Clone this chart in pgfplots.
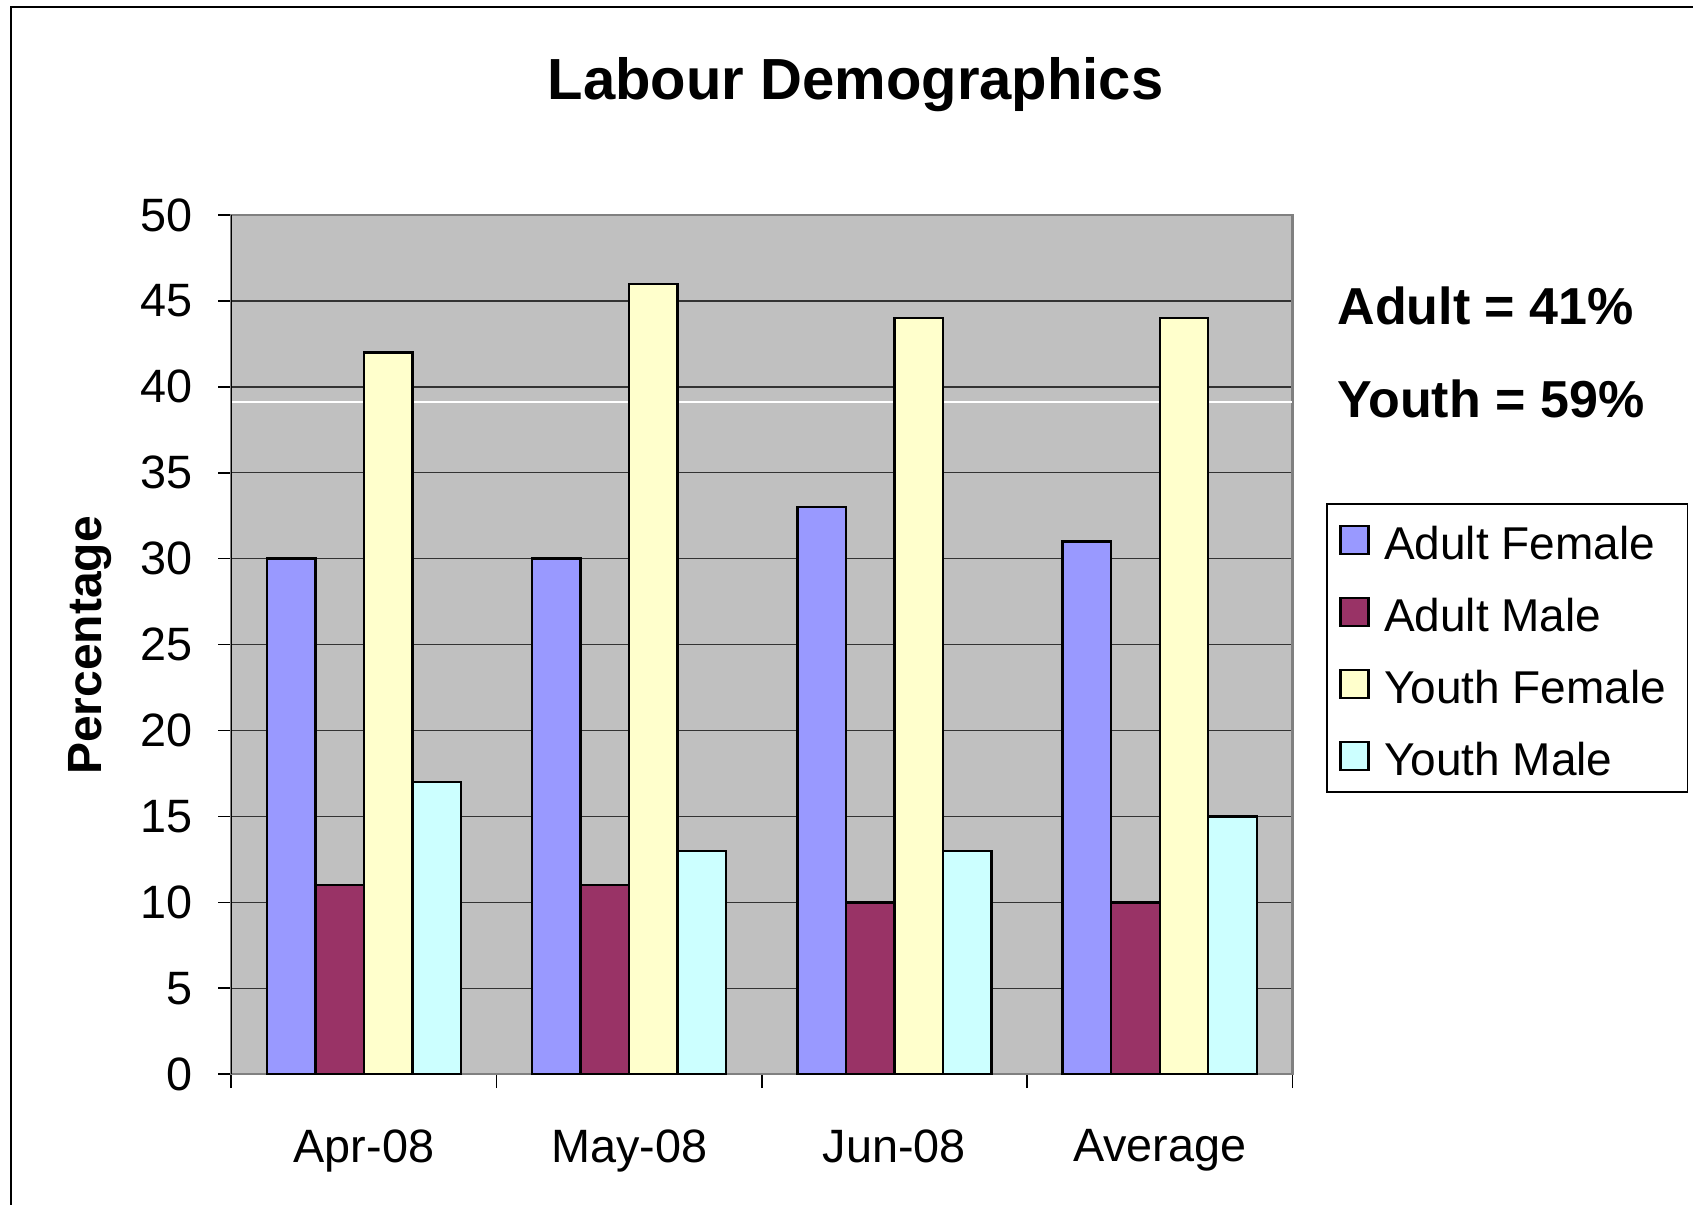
\documentclass[border=0pt]{standalone}
\usepackage{pgfplots}
\pgfplotsset{compat=1.18}
\usepackage{fontspec}
\setmainfont{Liberation Sans}
\definecolor{AF}{HTML}{9999FF}
\definecolor{AM}{HTML}{993366}
\definecolor{YF}{HTML}{FFFFCC}
\definecolor{YM}{HTML}{CCFFFF}
\definecolor{Plot}{HTML}{C0C0C0}
\definecolor{Frame}{HTML}{808080}
\begin{document}
\begin{tikzpicture}
\path[use as bounding box] (0,0) rectangle (423.25pt,301.25pt);
\draw[line width=0.5pt] (2.75pt,0) -- (2.75pt,299.5pt) -- (423.25pt,299.5pt);
\begin{axis}[
  at={(57.8pt,32.7pt)}, anchor=south west,
  scale only axis, width=265.3pt, height=214.8pt,
  xmin=0.5, xmax=4.5, ymin=0, ymax=50,
  axis background/.style={fill=Plot},
  axis line style={draw=Frame, line width=0.6pt},
  ytick={0,5,...,50},
  ymajorgrids, grid style={black!80, line width=0.35pt},
  xtick={1,2,3,4},
  xticklabels={Apr-08, May-08, Jun-08, Average},
  minor xtick={0.5,1.5,2.5,3.5,4.5},
  tick align=outside, tick pos=left,
  x tick style={draw=none}, minor x tick style={draw=black, line width=0.4pt},
  minor tick length=3.5pt,
  y tick style={black, line width=0.4pt}, major tick length=3.2pt,
  ticklabel style={font=\fontsize{11.7}{14}\selectfont},
  xticklabel style={yshift=-7.1pt},
  yticklabel style={xshift=-2.9pt},
  /pgf/number format/assume math mode=true,
  bar width=0.183,
  legend cell align=left,
  legend style={at={(1.0317,0.6648)}, anchor=north west, draw=black, line width=0.4pt,
    font=\fontsize{11.5}{14}\selectfont, inner xsep=3.1pt, inner ysep=0pt,
    row sep=0pt, column sep=1.4pt,
    nodes={text height=11.6pt, text depth=1.6pt, inner ysep=2.4pt, inner xsep=2.2pt}},
  legend image code/.code={\draw[#1, line width=0.6pt] (0pt,-3.5pt) rectangle (7pt,3.5pt);},
]
\draw[white, line width=0.4pt] (axis cs:0.5,39.1) -- (axis cs:4.5,39.1);
\addplot[ybar, bar shift=-0.2745, fill=AF, draw=black, line width=0.6pt]
  coordinates {(1,30) (2,30) (3,33) (4,31)};
\addplot[ybar, bar shift=-0.0915, fill=AM, draw=black, line width=0.6pt]
  coordinates {(1,11) (2,11) (3,10) (4,10)};
\addplot[ybar, bar shift=0.0915, fill=YF, draw=black, line width=0.6pt]
  coordinates {(1,42) (2,46) (3,44) (4,44)};
\addplot[ybar, bar shift=0.2745, fill=YM, draw=black, line width=0.6pt]
  coordinates {(1,17) (2,13) (3,13) (4,15)};
\legend{Adult Female, Adult Male, Youth Female, Youth Male}
\draw[black, line width=0.6pt] (axis cs:0.5,0) -- (axis cs:0.5,50);
\end{axis}
\node[anchor=base, font=\fontsize{14.5}{17}\selectfont\bfseries] at (213.9pt,276.4pt) {Labour Demographics};
\node[anchor=base, rotate=90, font=\fontsize{12}{14}\selectfont\bfseries] at (25.3pt,139.85pt) {Percentage};
\node[anchor=base west, inner sep=0pt, font=\fontsize{13}{15}\selectfont\bfseries] at (334.2pt,220.2pt) {Adult = 41\%};
\node[anchor=base west, inner sep=0pt, font=\fontsize{13}{15}\selectfont\bfseries] at (334.2pt,196.8pt) {Youth = 59\%};
\end{tikzpicture}
\end{document}
